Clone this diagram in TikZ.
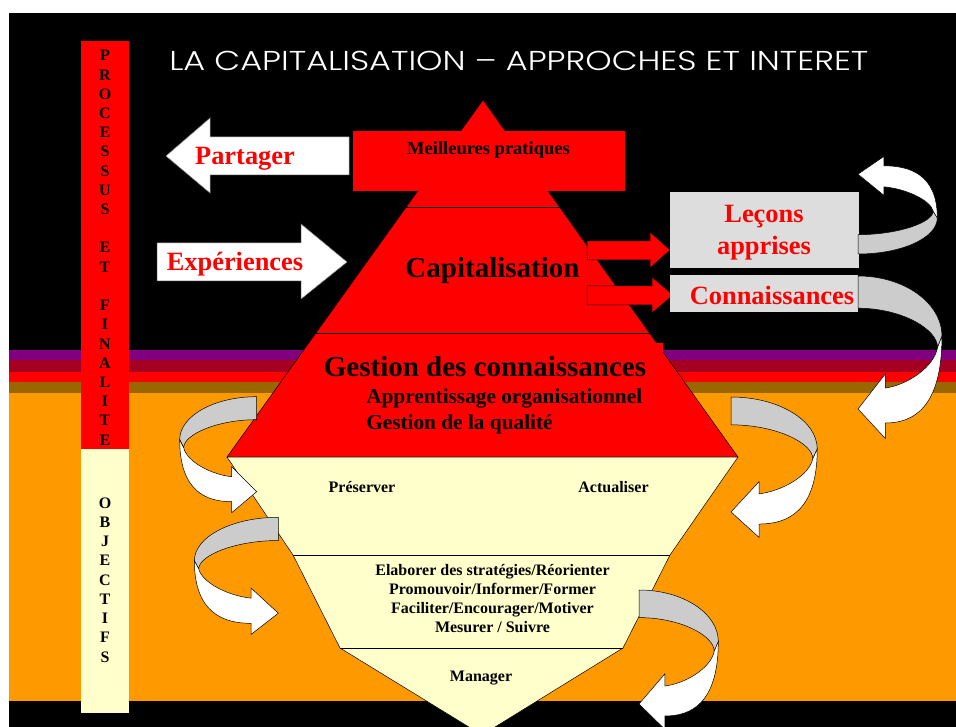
\documentclass[tikz,border=0pt]{standalone}
\usepackage{fontspec}
\usepackage{graphicx}
\setmainfont{Liberation Serif}
\newfontfamily\titlefont{Poppins Light}
\usetikzlibrary{calc}
\definecolor{cream}{HTML}{FFFFCC}
\definecolor{orangebg}{HTML}{FF9900}
\definecolor{bandpurple}{HTML}{800080}
\definecolor{bandwine}{HTML}{A50021}
\definecolor{bandbrown}{HTML}{996600}
\definecolor{boxgray}{HTML}{DDDDDD}
\definecolor{backgray}{HTML}{CCCCCC}

% ribbon arrow: x, y of its start, xscale, yscale
\newcommand\turnarrow[4]{%
  \begin{scope}[shift={(#1,#2)}, xscale=#3, yscale=#4]
    \draw [fill=backgray] (0,0) .. controls (42.5,0) and (77,19.3) .. (77,43)
      -- (73,51) .. controls (73,38) and (40,23) .. (0,23) -- cycle;
    \draw [fill=white] (77,43) .. controls (77,95) and (50,105) .. (25,105)
      -- (25,116) -- (0,95) -- (25,70) -- (25,80)
      .. controls (45,78) and (70,65) .. (73,51) -- cycle;
  \end{scope}}

\begin{document}
\begin{tikzpicture}[x=1pt, y=-1pt, line width=0.5pt,
  lbl/.style={anchor=base, inner sep=0pt},
  redtxt/.style={lbl, text=red, font=\fontsize{26.4}{28}\selectfont\bfseries},
  layer/.style={lbl, font=\fontsize{29}{30}\selectfont\bfseries},
  sub/.style={lbl, anchor=base west, font=\fontsize{21.3}{22}\selectfont\bfseries},
  small/.style={lbl, font=\fontsize{16}{19}\selectfont\bfseries},
  blockarrow/.style={draw=gray, fill=white}]%[node distance=2cm]
  \useasboundingbox (0,0) rectangle (956,727);
  \clip (0,0) rectangle (956,727);
  % background and bands
  \fill [white] (0,0) rectangle (956,727);
  \fill [black] (9,13) rectangle (956,727);
  \fill [bandpurple] (9,350) rectangle (956,360);
  \fill [bandwine] (9,360) rectangle (956,372);
  \fill [red] (9,372) rectangle (956,382);
  \fill [bandbrown] (9,382) rectangle (956,393);
  \fill [orangebg] (9,393) rectangle (956,701);
  % left column
  \fill [red] (81,41) rectangle (129,449);
  \fill [cream] (81,449) rectangle (129,713);
  \foreach \ch [count=\i from 0] in {P,R,O,C,E,S,S,U,S,{},E,T,{},F,I,N,A,L,I,T,E}
    \node [small] (pf\i) at (105,61+19.2*\i) {\ch};
  \foreach \ch [count=\i from 0] in {O,B,J,E,C,T,I,F,S}
    \node [small] (ob\i) at (105,508+19.25*\i) {\ch};
  \node [anchor=base west, inner sep=0pt, text=white] (title) at (169,71)
    {\resizebox{699pt}{19.3pt}{\titlefont LA CAPITALISATION – APPROCHES ET INTERET}};

  % upper pyramid
  \coordinate (apex) at (483,100);
  \coordinate (bl) at (227,457);
  \coordinate (br) at (738,457);
  \draw [fill=red] (apex) -- (br) -- (bl) -- cycle;
  \fill [red] (353,131) rectangle (625,191);
  \fill [red] (320,343) rectangle (663,380);
  \draw ($(apex)!0.2997!(bl)$) -- ($(apex)!0.2997!(br)$);
  \draw ($(apex)!0.6527!(bl)$) -- ($(apex)!0.6527!(br)$);
  % lower pyramid
  \coordinate (ml) at (293,555);
  \coordinate (mr) at (670,555);
  \coordinate (ll) at (340,648);
  \coordinate (lr) at (623,648);
  \draw [fill=cream] (bl) -- (br) -- (mr) -- (lr) -- (482,735) -- (ll) -- (ml) -- cycle;
  \draw (ml) -- (mr);
  \draw (ll) -- (lr);

  % block arrows and boxes
  \draw [blockarrow] (349,137) -- (210,137) -- (210,118) -- (166,156) -- (210,193) -- (210,175) -- (349,175) -- cycle;
  \draw [blockarrow] (157,243) -- (301,243) -- (301,224) -- (347,262) -- (301,299) -- (301,281) -- (157,281) -- cycle;
  \draw [fill=red] (587,241) -- (650,241) -- (650,232) -- (670,250) -- (650,268) -- (650,260) -- (587,260) -- cycle;
  \draw [fill=red] (587,286) -- (652,286) -- (652,277) -- (673,295) -- (652,313) -- (652,305) -- (587,305) -- cycle;
  \fill [boxgray] (670,192) rectangle (859,268);
  \fill [boxgray] (670,275) rectangle (858,312);

  % texts
  \node [redtxt] (share) at (245,165) {Partager};
  \node [redtxt] (exp) at (235,271) {Expériences};
  \node [redtxt] (lessons) at (764,222.7) {Leçons};
  \node [redtxt] (learnt) at (764,255) {apprises};
  \node [redtxt] (know) at (772,305) {Connaissances};
  \node [lbl, font=\fontsize{18.5}{20}\selectfont\bfseries] (best) at (488.5,155) {Meilleures pratiques};
  \node [layer] (capi) at (492.5,277.3) {Capitalisation};
  \node [layer] (gdc) at (485,376) {Gestion des connaissances};
  \node [sub] (orga) at (366,403.3) {Apprentissage organisationnel};
  \node [sub] (quality) at (366,429.3) {Gestion de la qualité};
  \node [small] (keep) at (362,492.7) {Préserver};
  \node [small] (update) at (613.5,492.7) {Actualiser};
  \node [small] (aim1) at (492.5,575.7) {Elaborer des stratégies/Réorienter};
  \node [small] (aim2) at (492.5,594.3) {Promouvoir/Informer/Former};
  \node [small] (aim3) at (492.5,613.3) {Faciliter/Encourager/Motiver};
  \node [small] (aim4) at (492.5,632.3) {Mesurer / Suivre};
  \node [small] (manage) at (481,681.7) {Manager};

  % ribbon arrows
  \turnarrow{858}{254}{1.03}{-0.84}
  \turnarrow{858}{276}{1.09}{1.4}
  \turnarrow{256.7}{396.7}{-1}{1}
  \turnarrow{278.3}{517.3}{-1.09}{1.01}
  \turnarrow{731}{397}{1.12}{1.21}
  \turnarrow{639}{590}{1.03}{1.2}
\end{tikzpicture}
\end{document}
